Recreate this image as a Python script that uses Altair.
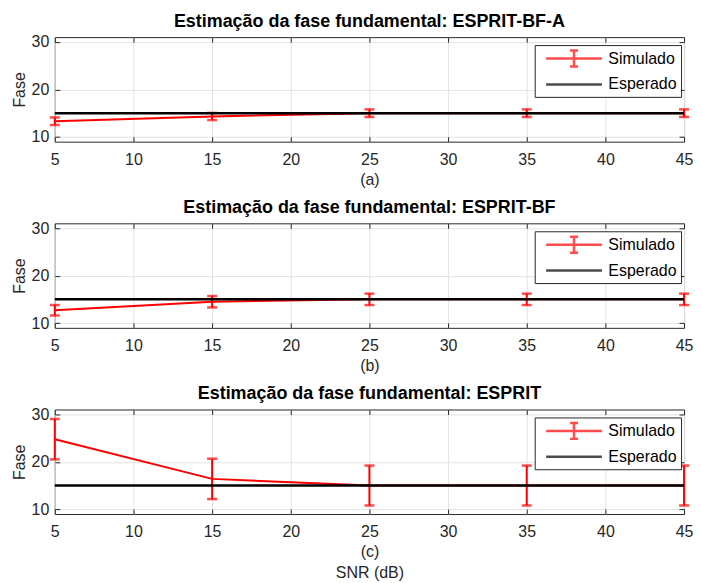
import altair as alt
import pandas as pd

snr = [5, 15, 25, 35, 45]
esperado = [15, 15, 15, 15, 15]

titulos = [
    "Estimação da fase fundamental: ESPRIT-BF-A",
    "Estimação da fase fundamental: ESPRIT-BF",
    "Estimação da fase fundamental: ESPRIT",
]
rotulos_x = ["(a)", "(b)", ["(c)", "SNR (dB)"]]

media_a = [13.3, 14.3, 15.0, 15.0, 15.0]
erro_a = [0.8, 0.75, 0.8, 0.8, 0.8]
media_b = [12.7, 14.5, 15.0, 15.0, 15.0]
erro_b = [1.1, 1.2, 1.2, 1.2, 1.2]
media_c = [24.75, 16.4, 15.0, 15.0, 15.0]
erro_c = [4.25, 4.25, 4.2, 4.2, 4.2]

series = ["Simulado", "Esperado"]
cores = ["#ff0000", "#000000"]
x_ticks = [5, 10, 15, 20, 25, 30, 35, 40, 45]
y_ticks = [10, 20, 30]

FONT = "Liberation Sans"
W, H = 632, 105
AX = "#262626"

# legend glyphs (unit = 8 px, symbol size 256)
ERRBAR = "M-5.75,0L1.25,0M-2.25,-1L-2.25,1M-2.75,-1L-1.75,-1M-2.75,1L-1.75,1"
LINE = "M-5.75,0L1.25,0"


def tick_axis(orient, values):
    return alt.Axis(orient=orient, values=values, offset=-5, tickSize=5, ticks=True,
                    tickColor=AX, tickWidth=1, labels=False, grid=False,
                    domain=False, title=None)


def panel(media, erro, titulo, xtitulo):
    df = pd.DataFrame({
        "snr": snr,
        "val": media,
        "lo": [m - e for m, e in zip(media, erro)],
        "hi": [m + e for m, e in zip(media, erro)],
    })
    dfe = pd.DataFrame({"snr": snr, "val": esperado})
    dfl = pd.DataFrame({"snr": [5, 5], "val": [15, 15], "serie": series})

    xs = alt.Scale(domain=[5, 45], nice=False, zero=False)
    ys = alt.Scale(domain=[9, 31], nice=False, zero=False)
    xax = alt.Axis(values=x_ticks, title=xtitulo, grid=True, labelFlush=False,
                   titleLineHeight=21, labelPadding=10, titlePadding=4)
    yax = alt.Axis(values=y_ticks, title="Fase", grid=True, labelPadding=6)

    legend = alt.Legend(
        title=None, orient="none", legendX=W - 150, legendY=8,
        fillColor="white", strokeColor=AX,
        padding=4, labelFontSize=16, labelFont=FONT, labelColor="#000000",
        symbolStrokeWidth=2.5, symbolSize=256, symbolOffset=44, labelOffset=7,
        rowPadding=3, labelExpr="datum.label + '      '",
    )
    ghost = alt.Chart(dfl).mark_point(filled=False, strokeWidth=2.5).encode(
        x=alt.X("snr:Q", scale=xs, axis=None),
        y=alt.Y("val:Q", scale=ys, axis=None),
        color=alt.Color("serie:N", scale=alt.Scale(domain=series, range=cores), legend=legend),
        shape=alt.Shape("serie:N", scale=alt.Scale(domain=series, range=[ERRBAR, LINE]), legend=legend),
    ).transform_filter("false")

    ticks_a = alt.Chart(dfl).mark_point().encode(
        x=alt.X("snr:Q", scale=xs, axis=tick_axis("bottom", x_ticks)),
        y=alt.Y("val:Q", scale=ys, axis=tick_axis("left", y_ticks)),
    ).transform_filter("false")
    ticks_b = alt.Chart(dfl).mark_point().encode(
        x=alt.X("snr:Q", scale=xs, axis=tick_axis("top", x_ticks)),
        y=alt.Y("val:Q", scale=ys, axis=tick_axis("right", y_ticks)),
    ).transform_filter("false")

    line = alt.Chart(df).mark_line(strokeWidth=2, color=cores[0]).encode(
        x=alt.X("snr:Q", scale=xs, axis=xax), y=alt.Y("val:Q", scale=ys, axis=yax))
    bars = alt.Chart(df).mark_rule(color=cores[0], strokeWidth=2).encode(
        x=alt.X("snr:Q", scale=xs, axis=None), y=alt.Y("lo:Q", scale=ys, axis=None), y2="hi:Q")
    cap_lo = alt.Chart(df).mark_tick(color=cores[0], orient="horizontal", size=10, thickness=2.5).encode(
        x=alt.X("snr:Q", scale=xs, axis=None), y=alt.Y("lo:Q", scale=ys, axis=None))
    cap_hi = alt.Chart(df).mark_tick(color=cores[0], orient="horizontal", size=10, thickness=2.5).encode(
        x=alt.X("snr:Q", scale=xs, axis=None), y=alt.Y("hi:Q", scale=ys, axis=None))
    exp = alt.Chart(dfe).mark_line(strokeWidth=2.5, color=cores[1]).encode(
        x=alt.X("snr:Q", scale=xs, axis=None), y=alt.Y("val:Q", scale=ys, axis=None))
    return alt.layer(line, bars, cap_lo, cap_hi, exp, ghost, ticks_a, ticks_b).resolve_axis(
        x="independent", y="independent"
    ).properties(
        width=W, height=H,
        title=alt.TitleParams(titulo, fontSize=18, font=FONT, fontWeight="bold",
                              color="#000000", offset=3, anchor="middle"),
    )


chart = alt.vconcat(
    panel(media_a, erro_a, titulos[0], rotulos_x[0]),
    panel(media_b, erro_b, titulos[1], rotulos_x[1]),
    panel(media_c, erro_c, titulos[2], rotulos_x[2]),
    spacing=10,
).resolve_legend(color="independent", shape="independent").resolve_scale(
    color="independent", shape="independent"
).properties(
    padding={"left": 2, "top": 3, "right": 0, "bottom": 0}
).configure_view(
    stroke=AX, strokeWidth=1
).configure_axis(
    labelFont=FONT, labelFontSize=16, labelColor=AX,
    titleFont=FONT, titleFontSize=16, titleColor=AX, titleFontWeight="normal",
    gridColor="#e3e3e3", gridWidth=1, domain=False, ticks=False,
).configure_axisX(labelAngle=0)

chart.save("out.html", embed_options={"renderer": "svg", "actions": False})
